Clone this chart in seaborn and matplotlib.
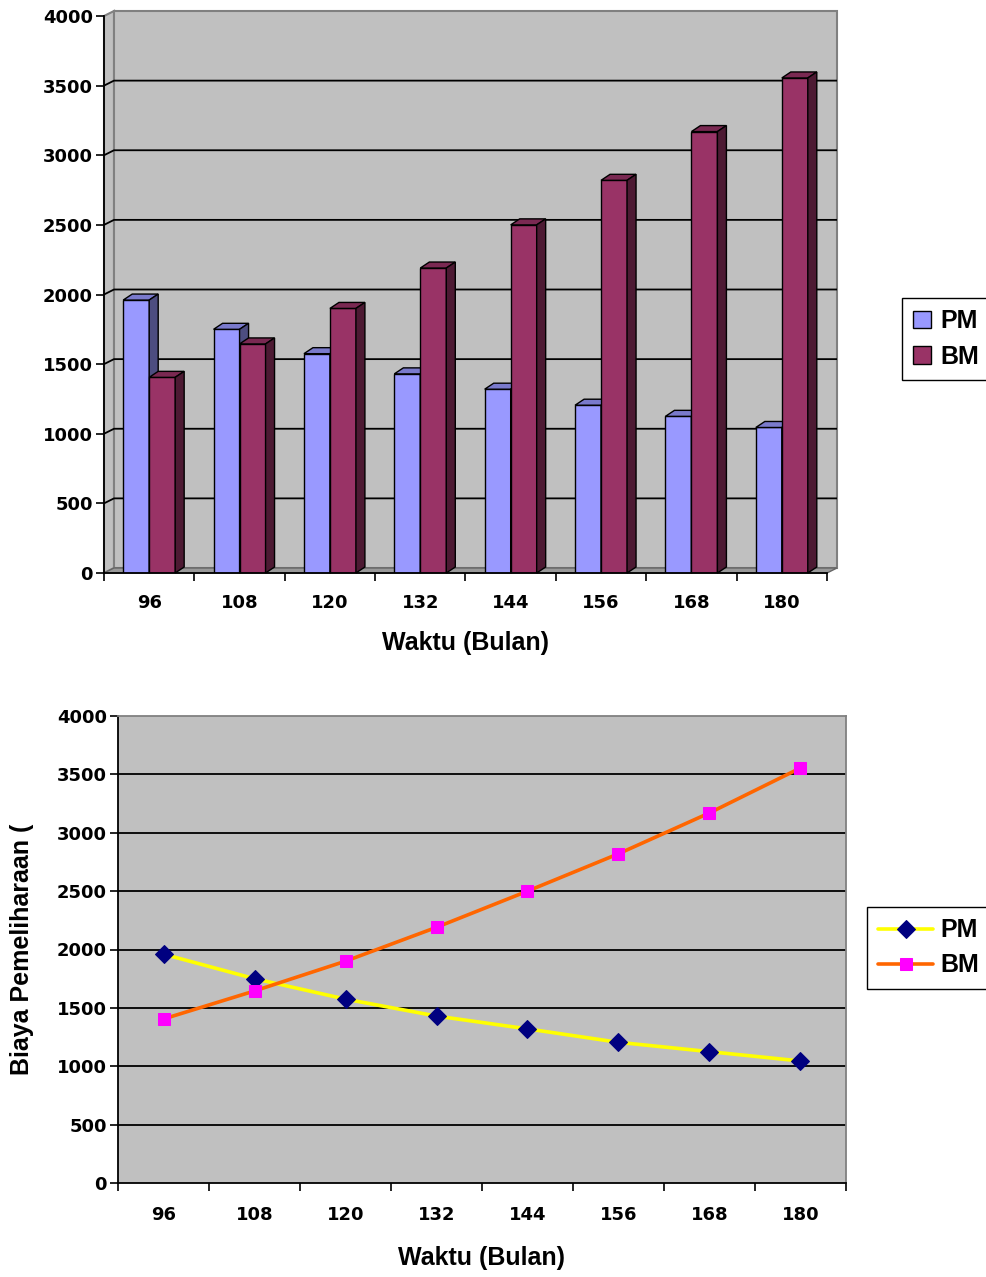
import numpy as np
import pandas as pd
import matplotlib
matplotlib.use("Agg")
import matplotlib.pyplot as plt
from matplotlib.patches import Polygon, Patch
from matplotlib.ticker import FixedLocator
import seaborn as sns

# ---- data -------------------------------------------------------------
months = [96, 108, 120, 132, 144, 156, 168, 180]
pm_cost = [1960, 1750, 1575, 1430, 1320, 1205, 1125, 1045]
bm_cost = [1405, 1645, 1900, 2190, 2500, 2820, 3170, 3555]
series = ["PM", "BM"]
y_ticks = [0, 500, 1000, 1500, 2000, 2500, 3000, 3500, 4000]
x_title = "Waktu (Bulan)"
y_title = "Biaya Pemeliharaan ("

# ---- style ------------------------------------------------------------
sns.set_theme(style="white")
plt.rcParams["font.family"] = ["DejaVu Sans"]
plt.rcParams["text.color"] = "black"
plt.rcParams["axes.labelcolor"] = "black"
plt.rcParams["xtick.color"] = "black"
plt.rcParams["ytick.color"] = "black"
TICK_FONT = dict(family="DejaVu Sans", weight="bold", size=13)
TITLE_FONT = dict(family="Liberation Sans", weight="bold", size=18)
WALL = "#C0C0C0"
EDGE_GRAY = "#808080"
bar_colors = {"PM": "#9999FF", "BM": "#993366"}

W, H, DPI = 987, 1277, 100
fig = plt.figure(figsize=(W / DPI, H / DPI), dpi=DPI)
fig.patch.set_facecolor("white")


def box(left, top, right, bottom):
    """Axes rectangle in figure fractions from pixel edges."""
    return [left / W, 1 - bottom / H, (right - left) / W, (bottom - top) / H]


def style_ticks(ax):
    for lab in ax.get_xticklabels() + ax.get_yticklabels():
        lab.set_fontproperties(matplotlib.font_manager.FontProperties(**TICK_FONT))
        lab.set_color("black")


# =======================================================================
# Top: clustered column chart with a 3-D look
# =======================================================================
AX1 = (104, 16, 827, 573)
ax1 = fig.add_axes(box(*AX1))
ax1.set_facecolor("none")

df = pd.DataFrame({
    "Waktu": [str(m) for m in months] * 2,
    "Biaya": pm_cost + bm_cost,
    "Seri": [series[0]] * len(months) + [series[1]] * len(months),
})
sns.barplot(data=df, x="Waktu", y="Biaya", hue="Seri", hue_order=series,
            palette=bar_colors, saturation=1, width=0.575,
            edgecolor="black", linewidth=1.0, legend=False, ax=ax1)

n = len(months)
ax1.set_xlim(-0.5, n - 0.5)
ax1.set_ylim(y_ticks[0], y_ticks[-1])

# data units per pixel
ux = n / (AX1[2] - AX1[0])
uy = (y_ticks[-1] - y_ticks[0]) / (AX1[3] - AX1[1])

# the columns drawn by seaborn, left to right
bars = sorted([p for p in ax1.patches if type(p).__name__ == "Rectangle"],
              key=lambda p: p.get_x())

# walls and floor
wdx, wdy = 10 * ux, 5 * uy
x0, x1 = -0.5, n - 0.5
y0, y1 = y_ticks[0], y_ticks[-1]
ax1.add_patch(Polygon([(x0, y0), (x0, y1), (x0 + wdx, y1 + wdy), (x0 + wdx, y0 + wdy)],
                      closed=True, facecolor=WALL, edgecolor=EDGE_GRAY, lw=1.5,
                      zorder=0.3, clip_on=False))
ax1.add_patch(Polygon([(x0 + wdx, y0 + wdy), (x0 + wdx, y1 + wdy),
                       (x1 + wdx, y1 + wdy), (x1 + wdx, y0 + wdy)],
                      closed=True, facecolor=WALL, edgecolor=EDGE_GRAY, lw=1.5,
                      zorder=0.3, clip_on=False))
ax1.add_patch(Polygon([(x0, y0), (x1, y0), (x1 + wdx, y0 + wdy), (x0 + wdx, y0 + wdy)],
                      closed=True, facecolor="#999999", edgecolor="#666666", lw=1.0,
                      zorder=0.4, clip_on=False))
for v in y_ticks[1:-1]:
    ax1.plot([x0, x0 + wdx, x1 + wdx], [v, v + wdy, v + wdy], color="black",
             lw=1.3, zorder=0.6, clip_on=False, solid_capstyle="butt")

# top and side faces of every column
bdx, bdy = 9 * ux, 6 * uy
for i, bar in enumerate(bars):
    bx, bw, bh = bar.get_x(), bar.get_width(), bar.get_height()
    front = np.array(bar.get_facecolor()[:3])
    z = 2 + i * 0.1
    bar.set_zorder(z)
    top = Polygon([(bx, bh), (bx + bw, bh), (bx + bw + bdx, bh + bdy), (bx + bdx, bh + bdy)],
                  closed=True, facecolor=front * 0.8, edgecolor="black", lw=1.0,
                  zorder=z + 0.01, clip_on=False)
    side = Polygon([(bx + bw, 0), (bx + bw, bh), (bx + bw + bdx, bh + bdy), (bx + bw + bdx, bdy)],
                   closed=True, facecolor=front * 0.5, edgecolor="black", lw=1.0,
                   zorder=z + 0.02, clip_on=False)
    ax1.add_patch(top)
    ax1.add_patch(side)

# axes, ticks, labels
for s in ["top", "right"]:
    ax1.spines[s].set_visible(False)
for s in ["left", "bottom"]:
    ax1.spines[s].set_color("black")
    ax1.spines[s].set_linewidth(1.3)
    ax1.spines[s].set_zorder(5)
ax1.set_yticks(y_ticks)
ax1.set_yticklabels([str(t) for t in y_ticks])
ax1.tick_params(axis="y", direction="out", length=6, width=1.2, color="black", pad=2, left=True)
ax1.set_xticks(range(n))
ax1.set_xticklabels([str(m) for m in months])
ax1.xaxis.set_minor_locator(FixedLocator(np.arange(n + 1) - 0.5))
ax1.tick_params(axis="x", which="major", length=0, pad=15)
ax1.tick_params(axis="x", which="minor", direction="out", length=6, width=1.2,
                color="black", bottom=True)
ax1.set_ylabel("")
ax1.set_xlabel(x_title, fontdict=TITLE_FONT, va="center", color="black")
ax1.xaxis.set_label_coords(0.5, -(643 - AX1[3]) / (AX1[3] - AX1[1]))
style_ticks(ax1)

fig.legend(handles=[Patch(facecolor=bar_colors[s], edgecolor="black", lw=1.0) for s in series],
           labels=series, loc="upper left", bbox_to_anchor=(902 / W, 1 - 298 / H),
           bbox_transform=fig.transFigure, borderaxespad=0, frameon=True, fancybox=False,
           edgecolor="black", framealpha=1, prop=TITLE_FONT, handlelength=0.7,
           handleheight=0.7, handletextpad=0.4, labelspacing=0.45, borderpad=0.45,
           labelcolor="black")

# =======================================================================
# Bottom: line chart of the same two series
# =======================================================================
AX2 = (118, 716, 846, 1183)
ax2 = fig.add_axes(box(*AX2))
ax2.set_facecolor(WALL)

pm_line = sns.lineplot(x=months, y=pm_cost, color="#FFFF00", lw=2.6, marker="D",
                       markersize=9.5, markerfacecolor="#000080", markeredgecolor="#000080",
                       ax=ax2, zorder=3).lines[-1]
bm_line = sns.lineplot(x=months, y=bm_cost, color="#FF6600", lw=2.6, marker="s",
                       markersize=8.3, markerfacecolor="#FF00FF", markeredgecolor="#FF00FF",
                       ax=ax2, zorder=4).lines[-1]

step = months[1] - months[0]
xa, xb = months[0] - step / 2, months[-1] + step / 2
ax2.set_xlim(xa, xb)
ax2.set_ylim(y_ticks[0], y_ticks[-1])
ax2.hlines(y_ticks[1:-1], xa, xb, color="black", lw=1.3, zorder=1)

for s in ["top", "right"]:
    ax2.spines[s].set_color(EDGE_GRAY)
    ax2.spines[s].set_linewidth(1.3)
for s in ["left", "bottom"]:
    ax2.spines[s].set_color("black")
    ax2.spines[s].set_linewidth(1.3)
ax2.set_yticks(y_ticks)
ax2.set_yticklabels([str(t) for t in y_ticks])
ax2.tick_params(axis="y", direction="out", length=6, width=1.2, color="black", pad=2, left=True)
ax2.set_xticks(months)
ax2.set_xticklabels([str(m) for m in months])
ax2.xaxis.set_minor_locator(FixedLocator(np.arange(xa, xb + 1, step)))
ax2.tick_params(axis="x", which="major", length=0, pad=16.5)
ax2.tick_params(axis="x", which="minor", direction="out", length=6, width=1.2,
                color="black", bottom=True)
ax2.set_xlabel(x_title, fontdict=TITLE_FONT, va="center", color="black")
ax2.xaxis.set_label_coords(0.5, -(1258 - AX2[3]) / (AX2[3] - AX2[1]))
ax2.set_ylabel(y_title, fontdict=TITLE_FONT, va="center", color="black")
ax2.yaxis.set_label_coords(-(AX2[0] - 22) / (AX2[2] - AX2[0]), 0.5)
style_ticks(ax2)

fig.legend(handles=[pm_line, bm_line], labels=series, loc="upper left",
           bbox_to_anchor=(867 / W, 1 - 907 / H), bbox_transform=fig.transFigure,
           borderaxespad=0, frameon=True, fancybox=False, edgecolor="black", framealpha=1,
           prop=TITLE_FONT, handlelength=2.2, handletextpad=0.3, labelspacing=0.45,
           borderpad=0.45, labelcolor="black")

fig.savefig("out.png", dpi=DPI, facecolor="white")
